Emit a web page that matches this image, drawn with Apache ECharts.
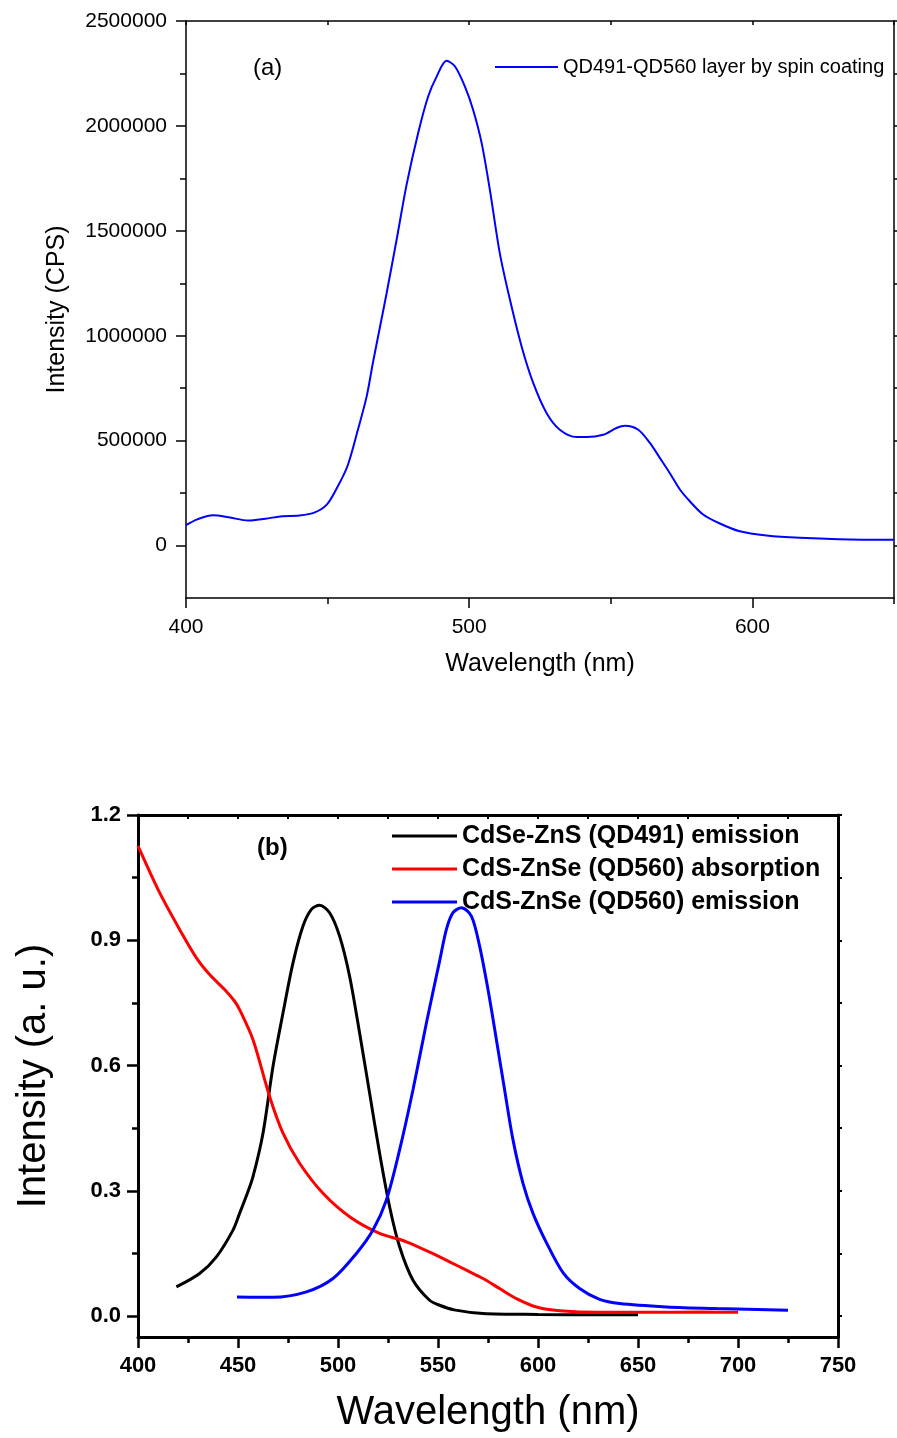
<!DOCTYPE html>
<html>
<head>
<meta charset="utf-8">
<script src="https://cdn.jsdelivr.net/npm/echarts@6/dist/echarts.min.js"></script>
<style>
  html, body { margin: 0; padding: 0; background: #fff; }
  #main { width: 897px; height: 1438px; }
</style>
</head>
<body>
<div id="main"></div>
<script>
// panel (a): QD491-QD560 layer, PL spectrum
var waveA = [400, 404, 409.5, 415, 422, 428, 434, 440, 445.5, 449.7, 453, 457, 460.7, 463.8, 466, 469, 470.8, 474.4, 477.9, 482, 485.5, 488.5, 492, 495, 498.5, 501.4, 504.4, 507.3, 510.8, 514.4, 518.5, 522.6, 527.3, 532, 537.9, 541.4, 547.3, 552, 555, 559.7, 563.8, 567.3, 570.8, 574.4, 577.9, 582.6, 588.5, 595.5, 605, 616.7, 634.4, 650];
var intensA = [97000, 125000, 144000, 135000, 119000, 128000, 140000, 143000, 158000, 195000, 267000, 378000, 552000, 711000, 871000, 1076000, 1200000, 1460000, 1720000, 1967000, 2140000, 2235000, 2310000, 2283000, 2187000, 2076000, 1918000, 1695000, 1394000, 1171000, 949000, 775000, 632000, 552000, 517000, 517000, 528000, 560000, 571000, 552000, 489000, 418000, 346000, 267000, 211000, 148000, 105000, 68000, 48000, 37000, 29000, 28000];

// panel (b): normalised spectra
var waveB1 = [419.2, 430.8, 439.2, 447.5, 450.8, 454.2, 457.5, 462.5, 467.5, 472.5, 477.5, 482.5, 486.7, 490.8, 495.8, 500.8, 505.8, 510.8, 515.8, 520.8, 525.8, 530.8, 537.5, 545.8, 550.8, 558, 572.5, 600, 630.8, 650];
var emis491 = [0.070, 0.102, 0.142, 0.206, 0.246, 0.288, 0.334, 0.438, 0.598, 0.726, 0.846, 0.934, 0.974, 0.984, 0.966, 0.910, 0.814, 0.678, 0.534, 0.390, 0.262, 0.166, 0.086, 0.038, 0.026, 0.015, 0.0064, 0.004, 0.003, 0.003];

var waveB2 = [400, 410.8, 420.8, 429.2, 435.8, 443.3, 448.3, 450.8, 457.5, 465.8, 472.5, 480.8, 492.5, 505.8, 520.8, 534.2, 550.8, 555.8, 564.2, 572.5, 580.8, 589.2, 599.2, 610.8, 630.8, 655.8, 680.8, 700];
var abs560 = [1.126, 1.014, 0.926, 0.858, 0.818, 0.782, 0.754, 0.734, 0.662, 0.526, 0.438, 0.366, 0.294, 0.238, 0.198, 0.178, 0.142, 0.130, 0.110, 0.090, 0.066, 0.042, 0.022, 0.013, 0.009, 0.009, 0.010, 0.009];

var waveB3 = [449.5, 467.5, 484.2, 497.5, 509.2, 517.5, 524.2, 530.8, 537.5, 544.2, 550.8, 554.2, 557.5, 561.7, 566.7, 570.8, 575, 579.2, 583.3, 587.5, 592.5, 597.5, 604.2, 612.5, 620.8, 630.8, 640.8, 664.2, 689.2, 725];
var emis560 = [0.046, 0.045, 0.058, 0.090, 0.150, 0.206, 0.278, 0.398, 0.542, 0.702, 0.850, 0.926, 0.966, 0.978, 0.958, 0.886, 0.782, 0.662, 0.542, 0.422, 0.318, 0.246, 0.176, 0.104, 0.066, 0.040, 0.030, 0.022, 0.018, 0.014];

var ticksA_x = [400, 500, 600];
var minorA_x = [450, 550, 650];
var ticksA_y = [0, 500000, 1000000, 1500000, 2000000, 2500000];
var minorA_y = [250000, 750000, 1250000, 1750000, 2250000];
var ticksB_y = [0, 0.3, 0.6, 0.9, 1.2];
var minorB_y = [0.15, 0.45, 0.75, 1.05];

var nameA = 'QD491-QD560 layer by spin coating';
var namesB = ['CdSe-ZnS (QD491) emission', 'CdS-ZnSe (QD560) absorption', 'CdS-ZnSe (QD560) emission'];

function zip(xs, ys) {
    var out = [];
    for (var i = 0; i < xs.length; i++) out.push([xs[i], ys[i]]);
    return out;
}

var FONT = '"Liberation Sans", Arial, sans-serif';
var black = '#000';

var myChart = echarts.init(document.getElementById('main'), null, {renderer: 'canvas'});

var option = {
    animation: false,
    backgroundColor: '#fff',
    textStyle: {fontFamily: FONT, color: black},
    grid: [
        {left: 186, top: 21, width: 708, height: 577, containLabel: false},
        {left: 138, top: 815, width: 700, height: 522, containLabel: false}
    ],
    legend: [{
        data: [nameA],
        left: 490, top: 52,
        icon: 'rect', itemWidth: 63, itemHeight: 2,
        textStyle: {fontFamily: FONT, fontSize: 20, color: black}
    }, {
        data: namesB,
        orient: 'vertical',
        left: 387, top: 816,
        icon: 'rect', itemWidth: 65, itemHeight: 3, itemGap: 3,
        textStyle: {fontFamily: FONT, fontSize: 25, fontWeight: 'bold', color: black, lineHeight: 30}
    }],
    graphic: [
        {type: 'text', left: 253, top: 56, style: {text: '(a)', font: '24px ' + FONT, fill: black}},
        {type: 'text', left: 257, top: 836, style: {text: '(b)', font: 'bold 24px ' + FONT, fill: black}}
    ],
    xAxis: [
        { // (a) bottom
            gridIndex: 0, type: 'value', min: 400, max: 650, position: 'bottom',
            name: 'Wavelength (nm)', nameLocation: 'middle', nameGap: 54,
            nameTextStyle: {fontFamily: FONT, fontSize: 25, color: black},
            axisLine: {onZero: false, lineStyle: {color: black, width: 1.5}},
            axisTick: {customValues: ticksA_x, length: 10, lineStyle: {color: black, width: 1.5}},
            axisLabel: {customValues: ticksA_x, fontSize: 21, color: black, margin: 19},
            splitLine: {show: false}
        },
        { // (a) bottom minor ticks
            gridIndex: 0, type: 'value', min: 400, max: 650, position: 'bottom',
            axisLine: {show: false, onZero: false},
            axisTick: {customValues: minorA_x, length: 6, lineStyle: {color: black, width: 1.5}},
            axisLabel: {show: false}, splitLine: {show: false}
        },
        { // (a) top
            gridIndex: 0, type: 'value', min: 400, max: 650, position: 'top',
            axisLine: {onZero: false, lineStyle: {color: black, width: 1.5}},
            axisTick: {customValues: [400, 450, 500, 550, 600, 650], inside: true, length: 4, lineStyle: {color: black, width: 1.5}},
            axisLabel: {show: false}, splitLine: {show: false}
        },
        { // (b) bottom
            gridIndex: 1, type: 'value', min: 400, max: 750, interval: 50, position: 'bottom',
            name: 'Wavelength (nm)', nameLocation: 'middle', nameGap: 56,
            nameTextStyle: {fontFamily: FONT, fontSize: 40, color: black},
            axisLine: {onZero: false, lineStyle: {color: black, width: 3}},
            axisTick: {length: 11, lineStyle: {color: black, width: 2.5}},
            minorTick: {show: true, splitNumber: 2, length: 6, lineStyle: {color: black, width: 2.5}},
            axisLabel: {fontSize: 22, fontWeight: 'bold', color: black, margin: 18},
            splitLine: {show: false}, minorSplitLine: {show: false}
        },
        { // (b) top
            gridIndex: 1, type: 'value', min: 400, max: 750, interval: 25, position: 'top',
            axisLine: {onZero: false, lineStyle: {color: black, width: 3}},
            axisTick: {inside: true, length: 4, lineStyle: {color: black, width: 2}},
            axisLabel: {show: false}, splitLine: {show: false}
        }
    ],
    yAxis: [
        { // (a) left
            gridIndex: 0, type: 'value', min: -250000, max: 2500000, position: 'left',
            name: 'Intensity (CPS)', nameLocation: 'middle', nameGap: 116,
            nameTextStyle: {fontFamily: FONT, fontSize: 25, color: black},
            axisLine: {show: true, onZero: false, lineStyle: {color: black, width: 1.5}},
            axisTick: {show: true, customValues: ticksA_y, length: 10, lineStyle: {color: black, width: 1.5}},
            axisLabel: {customValues: ticksA_y, fontSize: 21, color: black, margin: 19,
                formatter: function (v) { return String(v); }},
            splitLine: {show: false}
        },
        { // (a) left minor ticks
            gridIndex: 0, type: 'value', min: -250000, max: 2500000, position: 'left',
            axisLine: {show: false, onZero: false},
            axisTick: {show: true, customValues: minorA_y, length: 6, lineStyle: {color: black, width: 1.5}},
            axisLabel: {show: false}, splitLine: {show: false}
        },
        { // (a) right
            gridIndex: 0, type: 'value', min: -250000, max: 2500000, position: 'right',
            axisLine: {show: true, onZero: false, lineStyle: {color: black, width: 1.5}},
            axisTick: {show: true, customValues: ticksA_y.concat(minorA_y), length: 4, lineStyle: {color: black, width: 1.5}},
            axisLabel: {show: false}, splitLine: {show: false}
        },
        { // (b) left
            gridIndex: 1, type: 'value', min: -0.05, max: 1.2, position: 'left',
            name: 'Intensity (a. u.)', nameLocation: 'middle', nameGap: 84,
            nameTextStyle: {fontFamily: FONT, fontSize: 40, color: black},
            axisLine: {show: true, onZero: false, lineStyle: {color: black, width: 3}},
            axisTick: {show: true, customValues: ticksB_y, length: 11, lineStyle: {color: black, width: 2.5}},
            axisLabel: {customValues: ticksB_y, fontSize: 22, fontWeight: 'bold', color: black, margin: 17,
                formatter: function (v) { return v.toFixed(1); }},
            splitLine: {show: false}
        },
        { // (b) left minor ticks
            gridIndex: 1, type: 'value', min: -0.05, max: 1.2, position: 'left',
            axisLine: {show: false, onZero: false},
            axisTick: {show: true, customValues: minorB_y, length: 6, lineStyle: {color: black, width: 2.5}},
            axisLabel: {show: false}, splitLine: {show: false}
        },
        { // (b) right
            gridIndex: 1, type: 'value', min: -0.05, max: 1.2, position: 'right',
            axisLine: {show: true, onZero: false, lineStyle: {color: black, width: 3}},
            axisTick: {show: true, customValues: ticksB_y.concat(minorB_y), length: 4, lineStyle: {color: black, width: 2}},
            axisLabel: {show: false}, splitLine: {show: false}
        }
    ],
    series: [{
        name: nameA, type: 'line', xAxisIndex: 0, yAxisIndex: 0,
        data: zip(waveA, intensA), showSymbol: false, symbol: 'none', smooth: 0.3,
        lineStyle: {color: '#0000ff', width: 2}, itemStyle: {color: '#0000ff'}
    }, {
        name: namesB[0], type: 'line', xAxisIndex: 3, yAxisIndex: 3,
        data: zip(waveB1, emis491), showSymbol: false, symbol: 'none', smooth: 0.3,
        lineStyle: {color: '#000000', width: 3}, itemStyle: {color: '#000000'}
    }, {
        name: namesB[1], type: 'line', xAxisIndex: 3, yAxisIndex: 3,
        data: zip(waveB2, abs560), showSymbol: false, symbol: 'none', smooth: 0.3,
        lineStyle: {color: '#ff0000', width: 3}, itemStyle: {color: '#ff0000'}
    }, {
        name: namesB[2], type: 'line', xAxisIndex: 3, yAxisIndex: 3,
        data: zip(waveB3, emis560), showSymbol: false, symbol: 'none', smooth: 0.3,
        lineStyle: {color: '#0000ff', width: 3}, itemStyle: {color: '#0000ff'}
    }]
};

myChart.setOption(option);
</script>
</body>
</html>
